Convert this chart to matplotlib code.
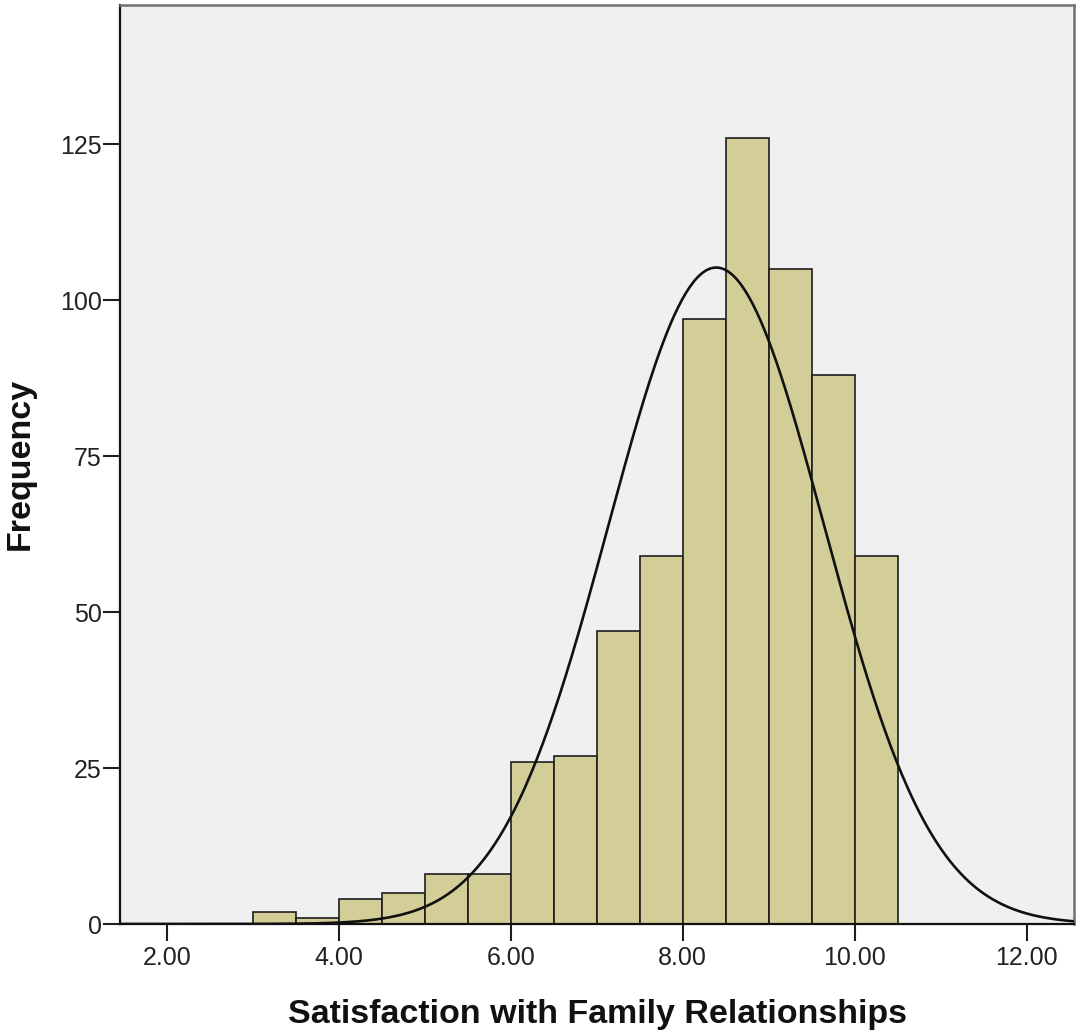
import numpy as np
import matplotlib
matplotlib.use("Agg")
import matplotlib.pyplot as plt

# histogram bins (width 0.5) and counts
bin_width = 0.5
bin_starts = [1.5, 2.0, 2.5, 3.0, 3.5, 4.0, 4.5, 5.0, 5.5, 6.0, 6.5,
              7.0, 7.5, 8.0, 8.5, 9.0, 9.5, 10.0]
counts = [0, 0, 0, 2, 1, 4, 5, 8, 8, 26, 27, 47, 59, 97, 126, 105, 88, 59]

# normal curve stats
norm_mean = 8.39
norm_sd = 1.255

x_ticks = [2, 4, 6, 8, 10, 12]
x_ticklabels = ["2.00", "4.00", "6.00", "8.00", "10.00", "12.00"]
y_ticks = [0, 25, 50, 75, 100, 125]

plt.rcParams['font.family'] = ['Liberation Sans', 'DejaVu Sans']

fig = plt.figure(figsize=(10.77, 10.32), dpi=100)
ax = fig.add_axes([120/1077, 1 - 924/1032, (1074-120)/1077, (924-5)/1032])
ax.set_facecolor('#f0f0f0')

ax.bar(bin_starts, counts, width=bin_width, align='edge',
       color='#d3ce97', edgecolor='#1e1e1e', linewidth=1.2, zorder=2)

# fitted normal curve scaled to the counts
n_total = sum(counts)
xs = np.linspace(1.457, 12.55, 500)
ys = n_total * bin_width / (norm_sd * np.sqrt(2 * np.pi)) * \
    np.exp(-0.5 * ((xs - norm_mean) / norm_sd) ** 2)
ax.plot(xs, ys, color='#111111', linewidth=1.9, zorder=3)

ax.set_xlim(1.457, 12.55)
ax.set_ylim(0, 147.3)
ax.set_xticks(x_ticks)
ax.set_xticklabels(x_ticklabels)
ax.set_yticks(y_ticks)

ax.tick_params(axis='both', direction='out', length=12, width=1.5,
               color='#1e1e1e', labelsize=18, labelcolor='#222222')
ax.tick_params(axis='x', pad=4)
ax.tick_params(axis='y', pad=1)

for side in ['left', 'bottom']:
    ax.spines[side].set_color('#111111')
    ax.spines[side].set_linewidth(1.6)
for side in ['top', 'right']:
    ax.spines[side].set_color('#707070')
    ax.spines[side].set_linewidth(1.8)

fig.text(597/1077, 1 - 1014/1032, 'Satisfaction with Family Relationships',
         ha='center', va='center', fontsize=24.5, fontweight='bold', color='#111111')
fig.text(20/1077, 1 - 464/1032, 'Frequency', rotation=90,
         ha='center', va='center', fontsize=24.5, fontweight='bold', color='#111111')

fig.savefig('out.png', dpi=100, facecolor='white')
